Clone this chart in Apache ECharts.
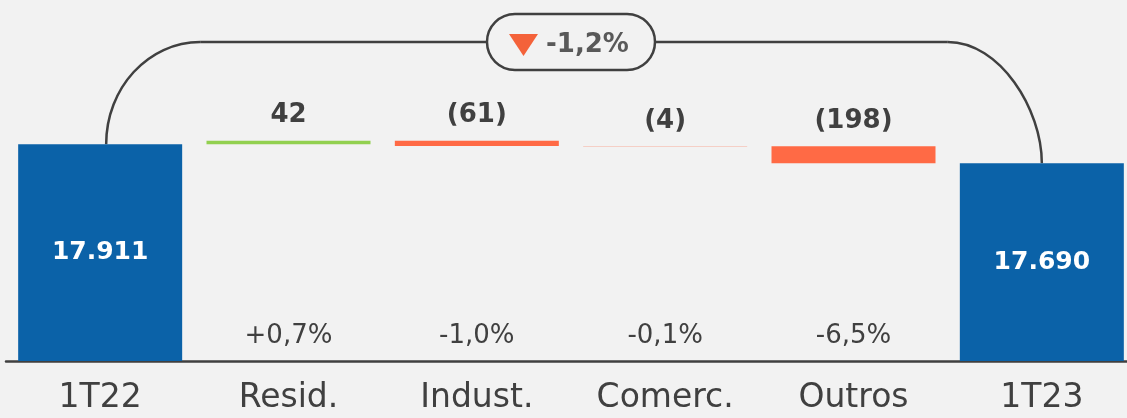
<!DOCTYPE html>
<html>
<head>
<meta charset="utf-8">
<script src="https://cdn.jsdelivr.net/npm/echarts@6/dist/echarts.min.js"></script>
<style>
  html, body { margin: 0; padding: 0; background: #f2f2f2; }
  #chart { width: 1127px; height: 418px; }
</style>
</head>
<body>
<div id="chart"></div>
<script>
// dados
const categories = ['1T22', 'Resid.', 'Indust.', 'Comerc.', 'Outros', '1T23'];
const totals = [17911, '-', '-', '-', '-', 17690];
const deltas = ['-', 42, -61, -4, -198, '-'];
const deltaLabels = ['', '42', '(61)', '(4)', '(198)', ''];
const pctLabels = ['', '+0,7%', '-1,0%', '-0,1%', '-6,5%', ''];
const totalChange = '-1,2%';

const FONT = 'DejaVu Sans';
const TEXT = '#404040';

// base invisivel + delta visivel (cascata)
let running = totals[0];
const baseData = [];
const deltaData = [];
deltas.forEach(function (d) {
  if (d === '-') {
    baseData.push('-');
    deltaData.push('-');
    return;
  }
  if (d >= 0) {
    baseData.push(running);
    running += d;
  } else {
    running += d;
    baseData.push(running);
  }
  deltaData.push({
    value: Math.abs(d),
    itemStyle: { color: d >= 0 ? '#92d050' : '#ff6a45' }
  });
});

const chart = echarts.init(document.getElementById('chart'));

chart.setOption({
  backgroundColor: '#f2f2f2',
  animation: false,
  grid: { left: 6, top: 0, width: 1130, height: 361, outerBoundsMode: 'none', containLabel: false },
  xAxis: {
    type: 'category',
    data: categories,
    axisLine: { lineStyle: { color: TEXT, width: 2.5 } },
    axisTick: { show: false },
    axisLabel: {
      color: TEXT,
      fontFamily: FONT,
      fontSize: 33,
      margin: 21
    }
  },
  yAxis: {
    type: 'value',
    min: 15390,
    max: 19590,
    show: false,
    splitLine: { show: false }
  },
  series: [
    {
      name: 'total',
      type: 'bar',
      stack: 'tot',
      barWidth: 164,
      barGap: '-100%',
      itemStyle: { color: '#0b62a8' },
      label: {
        show: true,
        position: 'inside',
        color: '#fff',
        fontFamily: FONT,
        fontWeight: 'bold',
        fontSize: 25,
        formatter: function (p) {
          return String(p.value).replace(/\B(?=(\d{3})+(?!\d))/g, '.');
        }
      },
      data: totals
    },
    {
      name: 'base',
      type: 'bar',
      stack: 'w',
      barWidth: 164,
      itemStyle: { color: 'transparent' },
      data: baseData
    },
    {
      name: 'delta',
      type: 'bar',
      stack: 'w',
      barWidth: 164,
      label: {
        show: true,
        position: 'top',
        distance: 12,
        color: TEXT,
        fontFamily: FONT,
        fontWeight: 'bold',
        fontSize: 26,
        formatter: function (p) { return deltaLabels[p.dataIndex]; }
      },
      data: deltaData
    },
    {
      name: 'pct',
      type: 'scatter',
      symbolSize: 1,
      itemStyle: { color: 'transparent', opacity: 1 },
      label: {
        show: true,
        position: 'inside',
        color: TEXT,
        fontFamily: FONT,
        fontSize: 26,
        formatter: function (p) { return pctLabels[p.dataIndex]; }
      },
      data: categories.map(function (c, i) { return pctLabels[i] ? [c, 15680] : [c, '-']; })
    }
  ]
});

// conector com variacao total
const p0 = chart.convertToPixel({ gridIndex: 0 }, [categories[0], totals[0]]);
const p1 = chart.convertToPixel({ gridIndex: 0 }, [categories[5], totals[5]]);
const topY = 42;
const x0 = p0[0] + 6, y0 = p0[1];
const x1 = p1[0], y1 = p1[1];
const rx = 94;
const k = 0.552;
const midX = (p0[0] + p1[0]) / 2;
const lineStyle = { stroke: TEXT, lineWidth: 2.5, fill: null };

chart.setOption({
  graphic: [
    {
      type: 'bezierCurve',
      shape: {
        x1: x0, y1: y0,
        cpx1: x0, cpy1: y0 - k * (y0 - topY),
        cpx2: x0 + rx - k * rx, cpy2: topY,
        x2: x0 + rx, y2: topY
      },
      style: lineStyle
    },
    {
      type: 'line',
      shape: { x1: x0 + rx, y1: topY, x2: x1 - rx, y2: topY },
      style: lineStyle
    },
    {
      type: 'bezierCurve',
      shape: {
        x1: x1 - rx, y1: topY,
        cpx1: x1 - rx + k * rx, cpy1: topY,
        cpx2: x1, cpy2: topY + k * (y1 - topY),
        x2: x1, y2: y1
      },
      style: lineStyle
    },
    {
      type: 'rect',
      shape: { x: midX - 84, y: topY - 28, width: 168, height: 56, r: 28 },
      style: { fill: '#f2f2f2', stroke: TEXT, lineWidth: 2.5 }
    },
    {
      type: 'polygon',
      shape: { points: [[midX - 62, topY - 8], [midX - 33, topY - 8], [midX - 47.5, topY + 14]] },
      style: { fill: '#f4623a' }
    },
    {
      type: 'text',
      x: midX - 25,
      y: topY + 3,
      style: {
        text: totalChange,
        fill: '#595959',
        font: 'bold 26px "DejaVu Sans"',
        verticalAlign: 'middle'
      }
    }
  ]
});
</script>
</body>
</html>
